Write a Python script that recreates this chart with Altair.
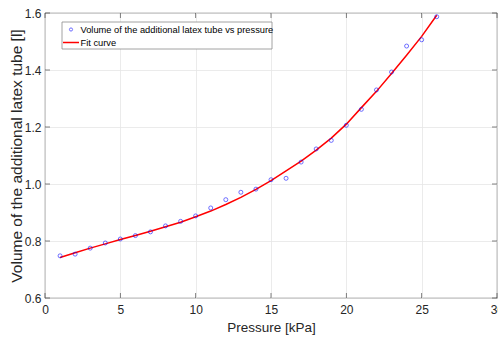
import altair as alt
import pandas as pd

pressure = list(range(1, 27))
volume = [0.748, 0.754, 0.775, 0.793, 0.807, 0.819, 0.832, 0.853, 0.869, 0.888,
          0.916, 0.945, 0.971, 0.982, 1.015, 1.020, 1.077, 1.123, 1.153, 1.206,
          1.262, 1.330, 1.393, 1.484, 1.506, 1.587]
fit = [0.742, 0.759, 0.775, 0.790, 0.805, 0.819, 0.834, 0.850, 0.866, 0.885,
       0.905, 0.928, 0.953, 0.981, 1.012, 1.046, 1.080, 1.119, 1.161, 1.210,
       1.268, 1.325, 1.388, 1.452, 1.518, 1.592]

x_ticks = [0, 5, 10, 15, 20, 25, 30]
y_ticks = [0.6, 0.8, 1.0, 1.2, 1.4, 1.6]

legend_labels = ["Volume of the additional latex tube vs pressure", "Fit curve"]

df = pd.DataFrame({"p": pressure, "v": volume, "f": fit})
xt = pd.DataFrame({"t": x_ticks})
yt = pd.DataFrame({"t": y_ticks})

FONT = "Liberation Sans"
W, H = 452, 285
AX = "#262626"

xs = alt.Scale(domain=[0, 30], nice=False)
ys = alt.Scale(domain=[0.6, 1.6], nice=False)

base = alt.Chart(df)

line = base.mark_line(color="#ff0000", strokeWidth=1.5).encode(
    x=alt.X("p:Q", scale=xs, title="Pressure [kPa]",
            axis=alt.Axis(values=x_ticks, titleFontSize=13.5, labelFlush=False)),
    y=alt.Y("f:Q", scale=ys, title="Volume of the additional latex tube [l]",
            axis=alt.Axis(values=y_ticks, titleFontSize=15.5, labelFlush=False)),
)

pts = base.mark_point(shape="circle", color="#0000ff", size=16, strokeWidth=0.8, filled=False).encode(
    x=alt.X("p:Q", scale=xs),
    y=alt.Y("v:Q", scale=ys),
)

# inward tick marks (MATLAB style) on all four sides
tb = alt.Chart(xt).mark_tick(color=AX, size=5, thickness=0.8, orient="vertical").encode(
    x=alt.X("t:Q", scale=xs), y=alt.value(H - 2.5))
tt = alt.Chart(xt).mark_tick(color=AX, size=5, thickness=0.8, orient="vertical").encode(
    x=alt.X("t:Q", scale=xs), y=alt.value(2.5))
tl = alt.Chart(yt).mark_tick(color=AX, size=5, thickness=0.8, orient="horizontal").encode(
    y=alt.Y("t:Q", scale=ys), x=alt.value(2.5))
tr = alt.Chart(yt).mark_tick(color=AX, size=5, thickness=0.8, orient="horizontal").encode(
    y=alt.Y("t:Q", scale=ys), x=alt.value(W - 2.5))

one = pd.DataFrame({"a": [0]})
box = alt.Chart(one).mark_rect(
    fill="white", stroke="#8c8c8c", strokeWidth=0.8
).encode(x=alt.value(17), x2=alt.value(227), y=alt.value(9), y2=alt.value(36))

leg_pt = alt.Chart(one).mark_point(
    shape="circle", color="#0000ff", size=10, strokeWidth=0.8, filled=False
).encode(x=alt.value(26), y=alt.value(16.5))
leg_line = alt.Chart(one).mark_rule(
    color="#ff0000", strokeWidth=1.5
).encode(x=alt.value(18), x2=alt.value(34), y=alt.value(29.5))
leg_t1 = alt.Chart(pd.DataFrame({"t": [legend_labels[0]]})).mark_text(
    align="left", baseline="middle", font=FONT, fontSize=9.3, color="#000000"
).encode(x=alt.value(35.5), y=alt.value(17), text="t:N")
leg_t2 = alt.Chart(pd.DataFrame({"t": [legend_labels[1]]})).mark_text(
    align="left", baseline="middle", font=FONT, fontSize=9.3, color="#000000"
).encode(x=alt.value(35.5), y=alt.value(30), text="t:N")

chart = alt.layer(line, pts, tb, tt, tl, tr, box, leg_pt, leg_line, leg_t1, leg_t2).properties(
    width=W, height=H,
    autosize=alt.AutoSizeParams(type="none"),
    padding={"left": 45, "top": 13, "right": 1, "bottom": 44},
).configure_view(
    stroke=AX, strokeWidth=0.8
).configure_axis(
    labelFont=FONT, titleFont=FONT, labelFontSize=12,
    labelColor=AX, titleColor=AX, titleFontWeight="normal",
    gridColor="#e6e6e6", gridWidth=0.8, domain=False, tickSize=0,
).configure_axisX(
    labelPadding=6, titlePadding=5,
).configure_axisY(
    labelPadding=4, titlePadding=0,
)

chart.save("out.html", embed_options={"renderer": "svg", "actions": False})
